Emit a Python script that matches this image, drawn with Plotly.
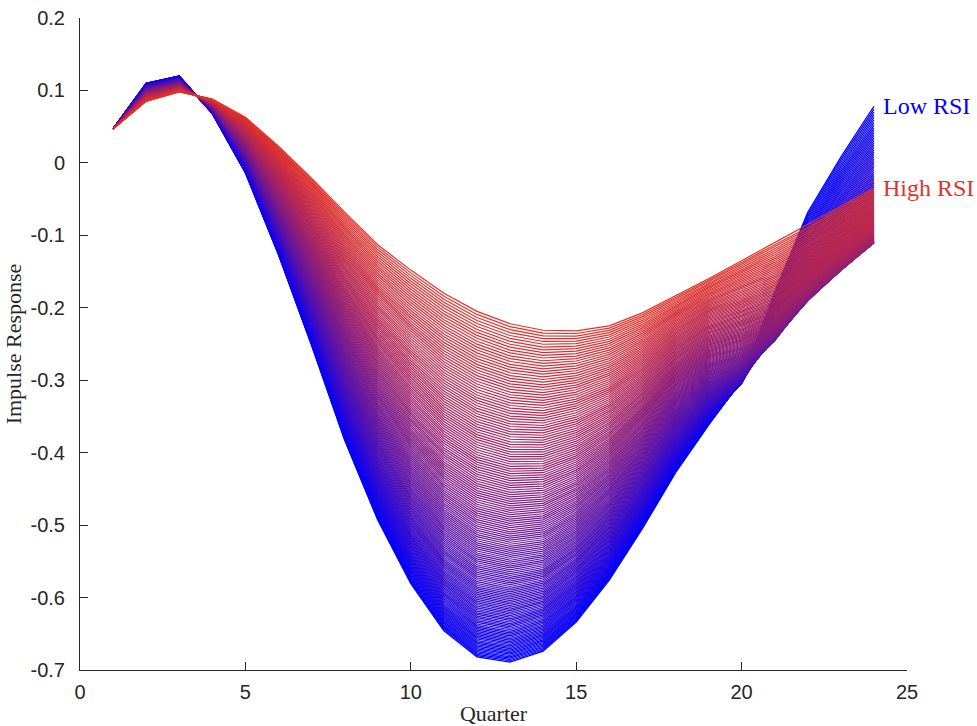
import numpy as np
import plotly.graph_objects as go

# Impulse responses by quarter at low, middle and high RSI
quarters = list(range(1, 25))
irf_low = [0.047, 0.110, 0.120, 0.068, -0.014, -0.127, -0.252, -0.383, -0.493, -0.581,
           -0.646, -0.682, -0.689, -0.674, -0.634, -0.576, -0.505, -0.428, -0.362, -0.300,
           -0.178, -0.068, 0.008, 0.078]
irf_mid = [0.047, 0.100, 0.111, 0.076, 0.017, -0.067, -0.160, -0.257, -0.341, -0.408,
           -0.460, -0.491, -0.502, -0.497, -0.473, -0.436, -0.386, -0.330, -0.290, -0.274,
           -0.242, -0.190, -0.146, -0.104]
irf_high = [0.047, 0.085, 0.098, 0.088, 0.063, 0.023, -0.021, -0.068, -0.113, -0.148,
            -0.180, -0.205, -0.222, -0.231, -0.232, -0.225, -0.207, -0.184, -0.160, -0.135,
            -0.110, -0.086, -0.060, -0.035]

n_states = 160
low_rgb = (0, 0, 255)
high_rgb = (228, 50, 40)

L = np.array(irf_low)
M = np.array(irf_mid)
H = np.array(irf_high)

fig = go.Figure()
for i in range(n_states):
    s = i / (n_states - 1)
    # quadratic response in the RSI state through the three estimated curves
    y = L * (1 - s) * (1 - 2 * s) + 4 * M * s * (1 - s) + H * s * (2 * s - 1)
    rgb = tuple(int(round(a + (b - a) * s)) for a, b in zip(low_rgb, high_rgb))
    fig.add_trace(go.Scatter(
        x=quarters, y=y, mode="lines",
        line=dict(color="rgb(%d,%d,%d)" % rgb, width=1.2),
        hoverinfo="skip", showlegend=False,
    ))

fig.add_annotation(x=24.2, y=irf_low[-1], text="Low RSI", showarrow=False,
                   xanchor="left", yanchor="middle",
                   font=dict(family="Liberation Serif", size=24, color="rgb(0,0,255)"))
fig.add_annotation(x=24.2, y=irf_high[-1], text="High RSI", showarrow=False,
                   xanchor="left", yanchor="middle",
                   font=dict(family="Liberation Serif", size=24, color="rgb(228,50,40)"))

axis_color = "#262626"
fig.update_layout(
    width=977, height=726,
    margin=dict(l=80, r=70, t=18, b=56),
    plot_bgcolor="white", paper_bgcolor="white",
    font=dict(family="Liberation Sans", size=20, color=axis_color),
    xaxis=dict(
        range=[0, 25], tickvals=[0, 5, 10, 15, 20, 25], automargin=False,
        showgrid=False, zeroline=False, showline=True, linecolor=axis_color, linewidth=1,
        ticks="inside", ticklen=8, tickcolor=axis_color, mirror=False, ticklabelstandoff=4,
        title=dict(text="Quarter", font=dict(family="Liberation Serif", size=22), standoff=6),
    ),
    yaxis=dict(
        range=[-0.7, 0.2], tickvals=[0.2, 0.1, 0, -0.1, -0.2, -0.3, -0.4, -0.5, -0.6, -0.7],
        ticktext=["0.2", "0.1", "0", "-0.1", "-0.2", "-0.3", "-0.4", "-0.5", "-0.6", "-0.7"],
        automargin=False,
        showgrid=False, zeroline=False, showline=True, linecolor=axis_color, linewidth=1,
        ticks="inside", ticklen=8, tickcolor=axis_color, mirror=False, ticklabelstandoff=10,
        title=dict(text="Impulse Response", font=dict(family="Liberation Serif", size=22), standoff=2),
    ),
)

fig.write_html("out.html")
